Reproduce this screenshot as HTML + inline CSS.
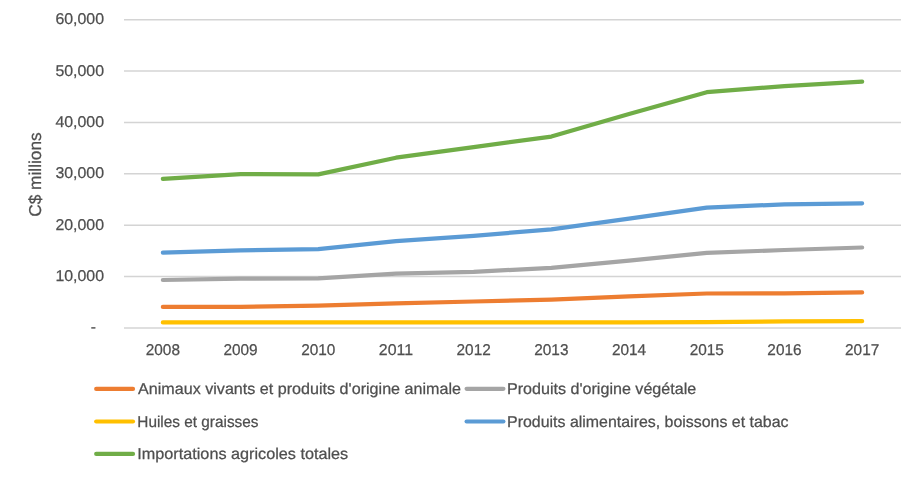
<!DOCTYPE html>
<html><head><meta charset="utf-8"><title>Importations agricoles</title>
<style>
html,body{margin:0;padding:0;background:#fff;}
body{width:920px;height:477px;overflow:hidden;}
svg{display:block;will-change:transform;text-rendering:geometricPrecision;}
text{font-family:'Liberation Sans', Arial, sans-serif;fill:#4f4f4f;stroke:#4f4f4f;stroke-width:0.25px;}
</style></head><body>
<svg width="920" height="477" viewBox="0 0 920 477">
<rect width="920" height="477" fill="#fff"/>

<line x1="124.0" y1="328.00" x2="901.0" y2="328.00" stroke="#D4D4D4" stroke-width="1.5"/>
<line x1="124.0" y1="276.62" x2="901.0" y2="276.62" stroke="#D4D4D4" stroke-width="1.5"/>
<line x1="124.0" y1="225.23" x2="901.0" y2="225.23" stroke="#D4D4D4" stroke-width="1.5"/>
<line x1="124.0" y1="173.85" x2="901.0" y2="173.85" stroke="#D4D4D4" stroke-width="1.5"/>
<line x1="124.0" y1="122.47" x2="901.0" y2="122.47" stroke="#D4D4D4" stroke-width="1.5"/>
<line x1="124.0" y1="71.08" x2="901.0" y2="71.08" stroke="#D4D4D4" stroke-width="1.5"/>
<line x1="124.0" y1="19.70" x2="901.0" y2="19.70" stroke="#D4D4D4" stroke-width="1.5"/>
<text x="96" y="332.30" font-size="15.6" text-anchor="end">-</text>
<text x="104" y="281.22" font-size="15.6" text-anchor="end" textLength="48.6" lengthAdjust="spacingAndGlyphs">10,000</text>
<text x="104" y="229.83" font-size="15.6" text-anchor="end" textLength="48.6" lengthAdjust="spacingAndGlyphs">20,000</text>
<text x="104" y="178.45" font-size="15.6" text-anchor="end" textLength="48.6" lengthAdjust="spacingAndGlyphs">30,000</text>
<text x="104" y="127.07" font-size="15.6" text-anchor="end" textLength="48.6" lengthAdjust="spacingAndGlyphs">40,000</text>
<text x="104" y="75.68" font-size="15.6" text-anchor="end" textLength="48.6" lengthAdjust="spacingAndGlyphs">50,000</text>
<text x="104" y="24.30" font-size="15.6" text-anchor="end" textLength="48.6" lengthAdjust="spacingAndGlyphs">60,000</text>
<text x="162.85" y="354.9" font-size="15.6" text-anchor="middle" textLength="34.2" lengthAdjust="spacingAndGlyphs">2008</text>
<text x="240.55" y="354.9" font-size="15.6" text-anchor="middle" textLength="34.2" lengthAdjust="spacingAndGlyphs">2009</text>
<text x="318.25" y="354.9" font-size="15.6" text-anchor="middle" textLength="34.2" lengthAdjust="spacingAndGlyphs">2010</text>
<text x="395.95" y="354.9" font-size="15.6" text-anchor="middle" textLength="34.2" lengthAdjust="spacingAndGlyphs">2011</text>
<text x="473.65" y="354.9" font-size="15.6" text-anchor="middle" textLength="34.2" lengthAdjust="spacingAndGlyphs">2012</text>
<text x="551.35" y="354.9" font-size="15.6" text-anchor="middle" textLength="34.2" lengthAdjust="spacingAndGlyphs">2013</text>
<text x="629.05" y="354.9" font-size="15.6" text-anchor="middle" textLength="34.2" lengthAdjust="spacingAndGlyphs">2014</text>
<text x="706.75" y="354.9" font-size="15.6" text-anchor="middle" textLength="34.2" lengthAdjust="spacingAndGlyphs">2015</text>
<text x="784.45" y="354.9" font-size="15.6" text-anchor="middle" textLength="34.2" lengthAdjust="spacingAndGlyphs">2016</text>
<text x="862.15" y="354.9" font-size="15.6" text-anchor="middle" textLength="34.2" lengthAdjust="spacingAndGlyphs">2017</text>
<text transform="translate(41,216.8) rotate(-90)" x="0" y="0" font-size="17.2" textLength="84.5" lengthAdjust="spacingAndGlyphs">C$ millions</text>
<polyline points="162.85,306.90 240.55,306.80 318.25,305.70 395.95,303.40 473.65,301.50 551.35,299.60 629.05,296.30 706.75,293.50 784.45,293.30 862.15,292.40" fill="none" stroke="#ED7D31" stroke-width="4.2" stroke-linecap="round" stroke-linejoin="round"/>
<polyline points="162.85,280.00 240.55,278.70 318.25,278.40 395.95,273.70 473.65,271.80 551.35,267.90 629.05,260.60 706.75,252.80 784.45,250.00 862.15,247.50" fill="none" stroke="#A5A5A5" stroke-width="4.2" stroke-linecap="round" stroke-linejoin="round"/>
<polyline points="162.85,322.40 240.55,322.40 318.25,322.40 395.95,322.40 473.65,322.40 551.35,322.40 629.05,322.30 706.75,322.20 784.45,321.40 862.15,321.20" fill="none" stroke="#FFC000" stroke-width="4.2" stroke-linecap="round" stroke-linejoin="round"/>
<polyline points="162.85,252.70 240.55,250.40 318.25,249.20 395.95,241.10 473.65,235.90 551.35,229.30 629.05,218.70 706.75,207.70 784.45,204.30 862.15,203.30" fill="none" stroke="#5B9BD5" stroke-width="4.2" stroke-linecap="round" stroke-linejoin="round"/>
<polyline points="162.85,178.90 240.55,174.10 318.25,174.40 395.95,157.70 473.65,147.10 551.35,136.60 629.05,114.10 706.75,92.20 784.45,86.10 862.15,81.60" fill="none" stroke="#70AD47" stroke-width="4.2" stroke-linecap="round" stroke-linejoin="round"/>
<line x1="96.20" y1="388.9" x2="133.00" y2="388.9" stroke="#ED7D31" stroke-width="4.2" stroke-linecap="round"/>
<text x="138.0" y="393.7" font-size="15.7" textLength="323.0" lengthAdjust="spacingAndGlyphs">Animaux vivants et produits d'origine animale</text>
<line x1="466.60" y1="388.8" x2="503.40" y2="388.8" stroke="#A5A5A5" stroke-width="4.2" stroke-linecap="round"/>
<text x="507.0" y="393.7" font-size="15.7" textLength="189.2" lengthAdjust="spacingAndGlyphs">Produits d'origine végétale</text>
<line x1="96.20" y1="421.5" x2="133.00" y2="421.5" stroke="#FFC000" stroke-width="4.2" stroke-linecap="round"/>
<text x="137.3" y="426.6" font-size="15.7" textLength="121.2" lengthAdjust="spacingAndGlyphs">Huiles et graisses</text>
<line x1="466.60" y1="421.5" x2="503.40" y2="421.5" stroke="#5B9BD5" stroke-width="4.2" stroke-linecap="round"/>
<text x="507.1" y="426.6" font-size="15.7" textLength="281.4" lengthAdjust="spacingAndGlyphs">Produits alimentaires, boissons et tabac</text>
<line x1="96.20" y1="453.9" x2="133.00" y2="453.9" stroke="#70AD47" stroke-width="4.2" stroke-linecap="round"/>
<text x="137.3" y="458.7" font-size="15.7" textLength="210.9" lengthAdjust="spacingAndGlyphs">Importations agricoles totales</text>
</svg>
</body></html>
